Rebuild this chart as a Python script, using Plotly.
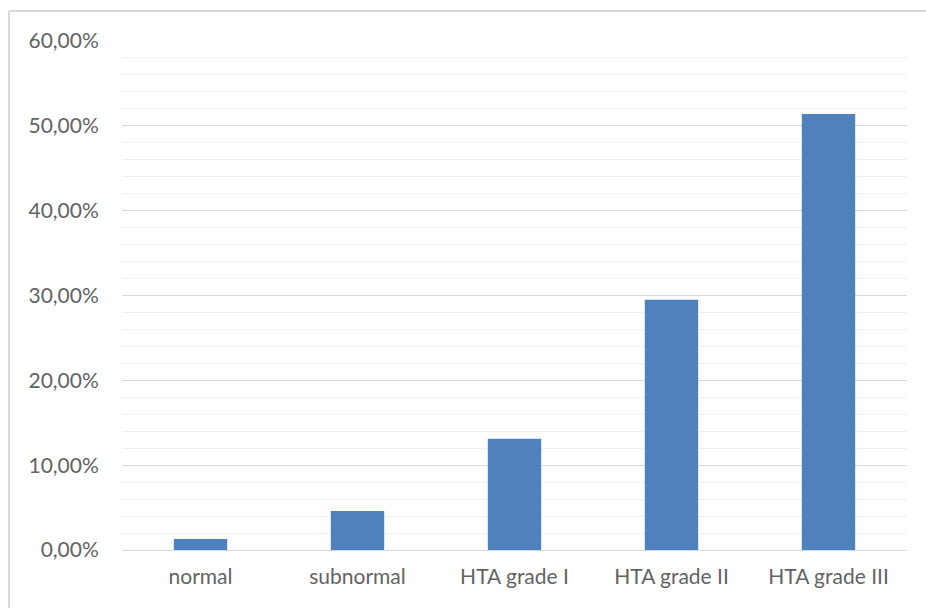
import plotly.graph_objects as go

categories = ["normal", "subnormal", "HTA grade I", "HTA grade II", "HTA grade III"]
percent_values = [1.3, 4.6, 13.1, 29.5, 51.4]
tick_values = [0, 10, 20, 30, 40, 50, 60]
tick_labels = ["0,00%", "10,00%", "20,00%", "30,00%", "40,00%", "50,00%", "60,00%"]

text_color = "#636363"
font_family = "Lato, Carlito, Calibri, sans-serif"
font_size = 21

fig = go.Figure(
    go.Bar(
        x=categories,
        y=percent_values,
        marker=dict(color="#4F81BD", line=dict(width=0)),
        hoverinfo="x+y",
    )
)

fig.update_layout(
    width=926,
    height=608,
    margin=dict(l=122, r=19, t=41, b=58),
    paper_bgcolor="white",
    plot_bgcolor="white",
    bargap=0.66,
    showlegend=False,
    font=dict(family=font_family, size=font_size, color=text_color),
    xaxis=dict(
        showgrid=False,
        showline=True,
        linecolor="#d9d9d9",
        linewidth=1,
        ticks="outside",
        ticklen=8,
        tickcolor="rgba(0,0,0,0)",
        tickfont=dict(size=font_size, color=text_color),
        fixedrange=True,
    ),
    yaxis=dict(
        range=[0, 60],
        tickvals=tick_values,
        ticktext=tick_labels,
        showgrid=True,
        gridcolor="#d9d9d9",
        gridwidth=1,
        zeroline=False,
        showline=False,
        ticks="outside",
        ticklen=18,
        tickcolor="rgba(0,0,0,0)",
        tickfont=dict(size=font_size, color=text_color),
        minor=dict(dtick=2, showgrid=True, gridcolor="#efefef", gridwidth=1),
        fixedrange=True,
    ),
    shapes=[
        # outer chart frame (top and left edges)
        dict(type="line", xref="paper", yref="paper",
             x0=-113 / 785, x1=1.03, y0=1 + 30 / 508.5, y1=1 + 30 / 508.5,
             line=dict(color="#d9d9d9", width=2)),
        dict(type="line", xref="paper", yref="paper",
             x0=-113 / 785, x1=-113 / 785, y0=-0.2, y1=1 + 30 / 508.5,
             line=dict(color="#d9d9d9", width=2)),
    ],
)

fig.write_html("out.html")
